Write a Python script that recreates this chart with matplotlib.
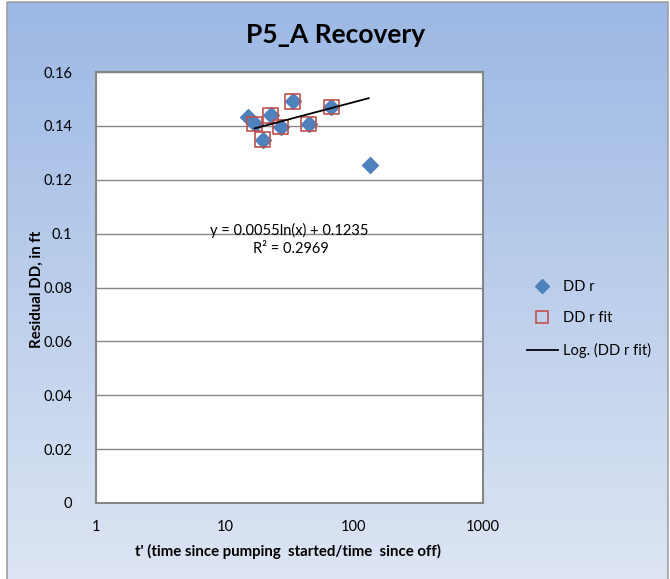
import numpy as np
import matplotlib.pyplot as plt
from matplotlib.patches import Rectangle
from matplotlib.lines import Line2D

plt.rcParams['font.family'] = ['Lato', 'DejaVu Sans']

# recovery data: t' ratio vs residual drawdown (ft)
t_ratio = [15.2, 17.0, 19.6, 22.6, 27.0, 33.4, 44.4, 66.9, 134.0]
dd_r = [0.1433, 0.1407, 0.1348, 0.1440, 0.1396, 0.1492, 0.1407, 0.1470, 0.1255]

# subset used for the fit
t_fit = [17.0, 19.6, 22.6, 27.0, 33.4, 44.4, 66.9]
dd_fit = [0.1407, 0.1348, 0.1440, 0.1396, 0.1492, 0.1407, 0.1470]

# log trendline y = a*ln(x) + b
coef_a = 0.0055
coef_b = 0.1235
r2 = 0.2969
trend_range = [17.0, 130.0]

fig = plt.figure(figsize=(6.7, 5.79), dpi=100)

# chart area background: blue gradient with grey frame
bg = fig.add_axes([0, 0, 1, 1], zorder=-10)
bg.set_xlim(0, 670)
bg.set_ylim(579, 0)
bg.axis('off')
grad = np.linspace(0, 1, 256).reshape(-1, 1)
top = np.array([0x9c, 0xb8, 0xe4]) / 255
bot = np.array([0xdd, 0xe5, 0xf3]) / 255
img = top + (bot - top) * grad[:, :, None]
bg.imshow(img, extent=[7, 668, 581, 2], aspect='auto', zorder=0)
bg.add_patch(Rectangle((7, 2), 661, 580, fill=False, edgecolor='#a0a0a0', lw=1.2, zorder=1))

ax = fig.add_axes([96 / 670, (579 - 503) / 579, 387 / 670, 431 / 579])
ax.set_facecolor('white')
ax.set_xscale('log')
ax.set_xlim(1, 1000)
ax.set_ylim(0, 0.16)
ax.set_yticks(np.arange(0, 0.161, 0.02))
ax.set_yticklabels(['0', '0.02', '0.04', '0.06', '0.08', '0.1', '0.12', '0.14', '0.16'])
ax.set_xticks([1, 10, 100, 1000])
ax.set_xticklabels(['1', '10', '100', '1000'])
ax.minorticks_off()
ax.tick_params(length=0, labelsize=10.5)
ax.tick_params(axis='y', pad=17)
ax.tick_params(axis='x', pad=12)
ax.grid(axis='y', color='#868686', lw=1)
ax.set_axisbelow(True)
for sp in ax.spines.values():
    sp.set_color('#868686')
    sp.set_linewidth(1.5)

ax.scatter(t_ratio, dd_r, marker='D', s=65, color='#4f81bd', zorder=3, label='DD r')
ax.scatter(t_fit, dd_fit, marker='s', s=115, facecolors='none', edgecolors='#c0504d',
           linewidths=1.2, zorder=4, label='DD r fit')

tx = np.array(trend_range)
ax.plot(tx, coef_a * np.log(tx) + coef_b, color='black', lw=1.3, zorder=5)

fig.text(289 / 670, 1 - 230 / 579, f'y = {coef_a}ln(x) + {coef_b}', ha='center', va='center', fontsize=10.5)
fig.text(291 / 670, 1 - 249 / 579, f'R² = {r2}', ha='center', va='center', fontsize=10.5)

fig.text(336 / 670, 1 - 35 / 579, 'P5_A Recovery', ha='center', va='center',
         fontsize=19, fontweight='bold')
fig.text(288 / 670, 1 - 551 / 579, "t' (time since pumping  started/time  since off)",
         ha='center', va='center', fontsize=10.8, fontweight='bold')
fig.text(37 / 670, 1 - 289 / 579, 'Residual DD, in ft', ha='center', va='center',
         rotation=90, fontsize=10.8, fontweight='bold')

handles = [
    Line2D([], [], marker='D', ls='none', color='#4f81bd', markersize=7.5),
    Line2D([], [], marker='s', ls='none', markerfacecolor='none', markeredgecolor='#c0504d',
           markersize=9, markeredgewidth=1.2),
    Line2D([], [], color='black', lw=1.3),
]
fig.legend(handles, ['DD r', 'DD r fit', 'Log. (DD r fit)'], frameon=False,
           loc='upper left', bbox_to_anchor=(527 / 670, 1 - 280 / 579),
           fontsize=10.5, handlelength=2.1, handletextpad=0.35, labelspacing=1.2,
           borderaxespad=0, borderpad=0)

fig.savefig('out.png', dpi=100)
